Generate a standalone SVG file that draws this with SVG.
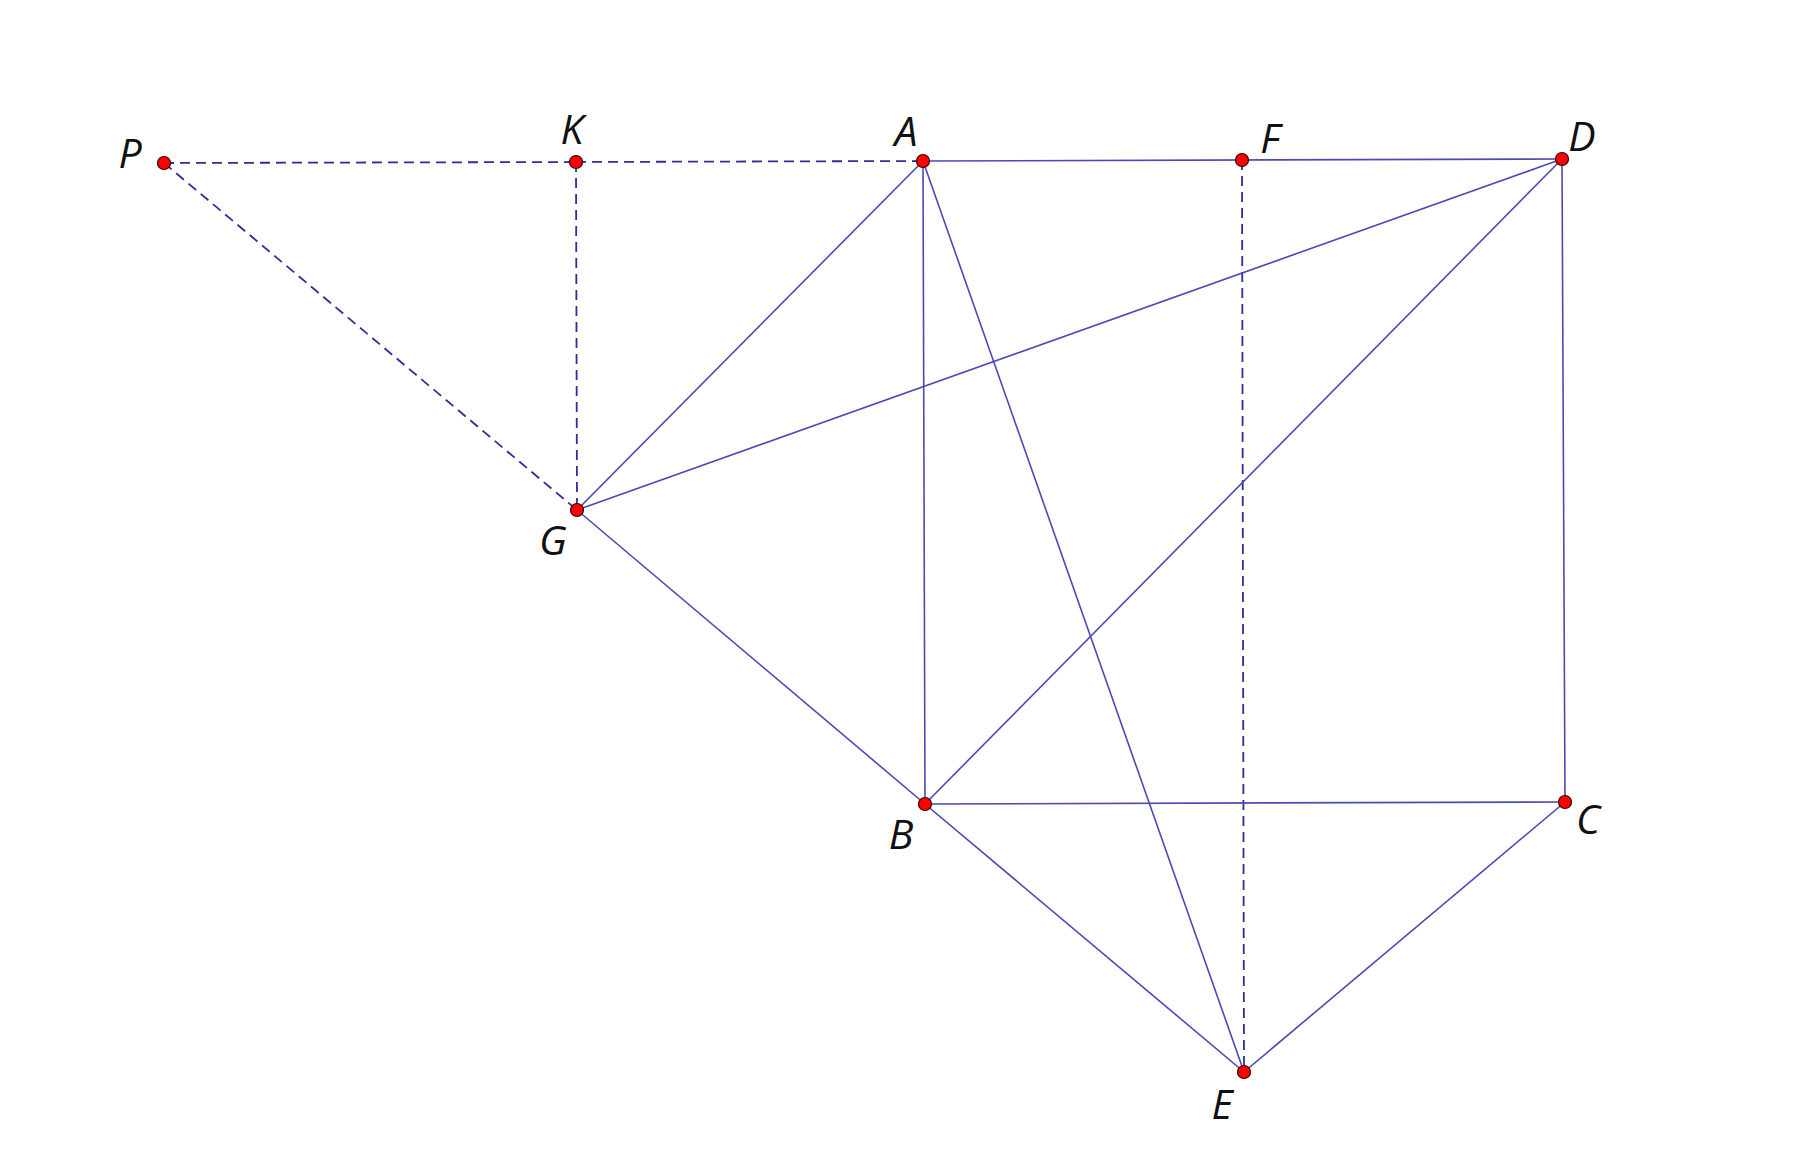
<svg xmlns="http://www.w3.org/2000/svg" width="1804" height="1167" viewBox="0 0 1804 1167">
<style>
.s{stroke:#4a4ab4;stroke-width:1.6;fill:none}
.d{stroke:#2e2e96;stroke-width:1.8;fill:none;stroke-dasharray:10,6}
.pt{fill:#ff0000;stroke:#3a0000;stroke-width:1.2}
.lb{font-family:"Open Sans","Liberation Sans",sans-serif;font-style:italic;font-size:41px;fill:#111;text-anchor:middle}
</style>
<rect width="1804" height="1167" fill="#fff"/>
<g id="connectors">
<line class="d" x1="164" y1="163" x2="576" y2="162"/>
<line class="d" x1="576" y1="162" x2="923" y2="161"/>
<line class="d" x1="576" y1="162" x2="577" y2="510"/>
<line class="d" x1="164" y1="163" x2="577" y2="510"/>
<line class="d" x1="1242" y1="160" x2="1244" y2="1072"/>
<line class="s" x1="923" y1="161" x2="1562" y2="159"/>
<line class="s" x1="923" y1="161" x2="925" y2="804"/>
<line class="s" x1="923" y1="161" x2="577" y2="510"/>
<line class="s" x1="923" y1="161" x2="1244" y2="1072"/>
<line class="s" x1="577" y1="510" x2="1562" y2="159"/>
<line class="s" x1="577" y1="510" x2="925" y2="804"/>
<line class="s" x1="1562" y1="159" x2="925" y2="804"/>
<line class="s" x1="1562" y1="159" x2="1565" y2="802"/>
<line class="s" x1="925" y1="804" x2="1565" y2="802"/>
<line class="s" x1="925" y1="804" x2="1244" y2="1072"/>
<line class="s" x1="1565" y1="802" x2="1244" y2="1072"/>
</g>
<g id="P"><circle class="pt" cx="164" cy="163" r="6.5"/><text class="lb" x="130" y="168">P</text></g>
<g id="K"><circle class="pt" cx="576" cy="162" r="6.5"/><text class="lb" x="572" y="144">K</text></g>
<g id="A"><circle class="pt" cx="923" cy="161" r="6.5"/><text class="lb" x="906" y="146">A</text></g>
<g id="F"><circle class="pt" cx="1242" cy="160" r="6.5"/><text class="lb" x="1270" y="153">F</text></g>
<g id="D"><circle class="pt" cx="1562" cy="159" r="6.5"/><text class="lb" x="1582" y="151">D</text></g>
<g id="G"><circle class="pt" cx="577" cy="510" r="6.5"/><text class="lb" x="553" y="555">G</text></g>
<g id="B"><circle class="pt" cx="925" cy="804" r="6.5"/><text class="lb" x="901" y="849">B</text></g>
<g id="C"><circle class="pt" cx="1565" cy="802" r="6.5"/><text class="lb" x="1588" y="834">C</text></g>
<g id="E"><circle class="pt" cx="1244" cy="1072" r="6.5"/><text class="lb" x="1222" y="1119">E</text></g>
</svg>
